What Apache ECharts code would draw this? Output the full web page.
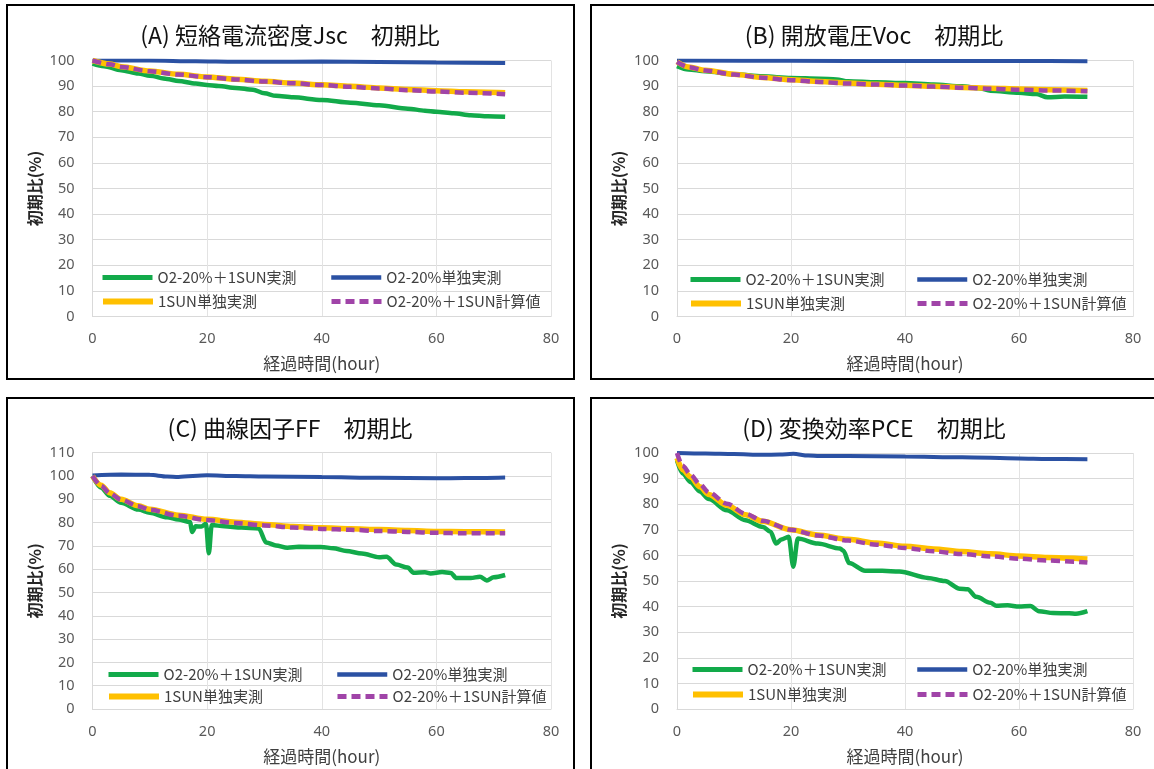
<!DOCTYPE html>
<html>
<head>
<meta charset="utf-8">
<title>初期比</title>
<script src="https://cdn.jsdelivr.net/npm/echarts@6/dist/echarts.min.js"></script>
<style>
  html, body { margin: 0; padding: 0; background: #ffffff; }
  #chart { width: 1154px; height: 769px; }
</style>
</head>
<body>
<div id="chart"></div>
<script>
// ---- legend / series names ----
const seriesNames = ['O2-20%＋1SUN実測', 'O2-20%単独実測', '1SUN単独実測', 'O2-20%＋1SUN計算値'];
const panelTitles = ['(A) 短絡電流密度Jsc　初期比', '(B) 開放電圧Voc　初期比', '(C) 曲線因子FF　初期比', '(D) 変換効率PCE　初期比'];
const xAxisName = '経過時間(hour)';
const yAxisName = '初期比(%)';
const yMaxes = [100, 100, 110, 100];

// ---- (A) Jsc : [hour, %] ----
const jscMixMeasured = [[0,98.8],[2,97.8],[5,96.2],[8,94.9],[10,94],[13,92.8],[15,92],[18,91],[20,90.4],[22,90],[25,89.3],[28,88.6],[30,87.2],[32,86.2],[35,85.6],[40,84.6],[45,83.5],[50,82.5],[55,81.2],[58,80.4],[60,80],[63,79.4],[66,78.6],[69,78.2],[72,78.0]];
const jscO2Only = [[0,100],[10,100],[18,99.7],[25,99.5],[30,99.5],[40,99.6],[50,99.4],[60,99.2],[72,99]];
const jscSunOnly = [[0,100],[3,98.6],[5,97.6],[10,95.9],[15,94.6],[20,93.6],[25,92.7],[30,91.9],[35,91.2],[40,90.5],[45,89.9],[50,89.3],[55,88.7],[60,88.2],[65,87.8],[72,87.4]];
const jscCalc = [[0,100],[3,98.5],[5,97.5],[10,95.8],[15,94.5],[20,93.5],[25,92.6],[30,91.8],[35,91.1],[40,90.4],[45,89.7],[50,89.1],[55,88.4],[60,87.9],[65,87.4],[72,86.8]];

// ---- (B) Voc ----
const vocMixMeasured = [[0,97.8],[2,96.5],[5,95.8],[10,94.6],[15,93.8],[20,93.2],[25,92.9],[28,92.6],[30,91.9],[35,91.5],[40,91.2],[45,90.6],[50,89.9],[53,89.2],[55,88.2],[60,87.4],[63,86.9],[65,85.6],[68,85.9],[72,85.8]];
const vocO2Only = [[0,100],[20,99.9],[40,99.8],[60,99.8],[72,99.7]];
const vocSunOnly = [[0,99.5],[2,97.5],[5,96.2],[10,94.6],[15,93.4],[20,92.5],[25,91.8],[30,91.2],[35,90.7],[40,90.3],[45,89.9],[50,89.5],[55,89.2],[60,88.9],[65,88.6],[72,88.3]];
const vocCalc = [[0,99.5],[2,97.4],[5,96.1],[10,94.5],[15,93.3],[20,92.3],[25,91.6],[30,91],[35,90.6],[40,90.2],[45,89.8],[50,89.4],[55,89],[60,88.6],[65,88.3],[72,88]];

// ---- (C) FF ----
const ffMixMeasured = [[0,100],[1.5,95],[3,91.5],[5,88.5],[8,85.6],[10,84.2],[13,82.3],[15,81.3],[17,80.3],[17.4,76],[18,78.4],[19,78.3],[19.8,79.5],[20.3,66.8],[20.8,79],[23,78.4],[26,77.9],[29,77.5],[30.3,71.5],[32,70.2],[34,69.2],[36,69.6],[40,69.5],[42,69],[44.3,67.8],[47,66.7],[50,65.1],[51.3,65.3],[53,62],[55,60.7],[56,58.5],[58,58.7],[59,58.2],[61,58.8],[62.5,58.4],[63.5,56.2],[66,56.2],[67.6,56.8],[68.8,55.2],[70,56.5],[72,57.5]];
const ffO2Only = [[0,100.2],[5,100.6],[10,100.5],[13,99.8],[15,99.6],[20,100.3],[25,100],[30,99.8],[40,99.6],[50,99.2],[60,99],[65,99.1],[72,99.4]];
const ffSunOnly = [[0,100],[1.5,96],[3,92.8],[5,90],[8,87.2],[10,85.7],[15,83.2],[20,81.4],[25,80.2],[30,79.2],[35,78.3],[40,77.8],[45,77.4],[50,77],[55,76.6],[60,76.2],[65,76.1],[72,76]];
const ffCalc = [[0,100],[1.5,95.8],[3,92.6],[5,89.8],[8,87],[10,85.5],[15,82.9],[20,81.1],[25,79.8],[30,78.8],[35,77.9],[40,77.3],[45,76.9],[50,76.4],[55,76],[60,75.6],[65,75.4],[72,75.4]];

// ---- (D) PCE ----
const pceMixMeasured = [[0,97],[1,92],[2.4,88.6],[4,85],[5.6,82],[8.75,77.6],[12,73.7],[15.1,71.1],[16.4,69.2],[17.4,64.6],[18.3,66.2],[19.6,67.3],[20.4,55.6],[21.2,66.6],[24.7,64.6],[28.6,62.7],[29.2,61.8],[30.2,57],[33,54],[36,54],[39,53.7],[44,51.2],[47,50],[49.6,47],[51,46.8],[52.5,43.8],[55,41.5],[56,40.3],[58,40.5],[60,40],[62,40.2],[63.5,38.2],[66,37.5],[68.8,37.4],[70,37.2],[72,38.2]];
const pceO2Only = [[0,100],[5,99.8],[10,99.6],[15,99.3],[18,99.4],[20.4,99.7],[23,99],[25,98.8],[30,98.8],[40,98.6],[50,98.3],[60,97.9],[65,97.7],[72,97.6]];
const pceSunOnly = [[0,98],[1,93.5],[2.4,90.6],[4,86.8],[5.6,83.8],[8.75,79.6],[12,75.9],[15,73.3],[20,70],[24.7,68],[30,66.3],[35,64.8],[40,63.6],[45,62.5],[50,61.5],[55,60.6],[60,59.8],[65,59.2],[72,58.6]];
const pceCalc = [[0,100],[1,95],[2.4,91.5],[4,87.8],[5.6,84.6],[8.75,80.2],[12,76.3],[15,73.5],[20,70],[24.7,67.8],[30,65.8],[35,64.2],[40,62.9],[45,61.6],[50,60.5],[55,59.6],[60,58.7],[65,58],[72,57.2]];

const panelData = [
  [jscMixMeasured, jscO2Only, jscSunOnly, jscCalc],
  [vocMixMeasured, vocO2Only, vocSunOnly, vocCalc],
  [ffMixMeasured, ffO2Only, ffSunOnly, ffCalc],
  [pceMixMeasured, pceO2Only, pceSunOnly, pceCalc]
];

// ---- layout and styling ----
const gridBoxes = [
  { left: 92.5, top: 60.5, width: 458.5, height: 256 },
  { left: 677, top: 60.5, width: 456, height: 256 },
  { left: 92.5, top: 452.7, width: 458.5, height: 256.3 },
  { left: 677, top: 453, width: 456, height: 256 }
];
const panelFrames = [
  { x: 7, y: 5, width: 567, height: 374 },
  { x: 591, y: 5, width: 580, height: 374 },
  { x: 7, y: 398, width: 567, height: 400 },
  { x: 591, y: 398, width: 580, height: 400 }
];
const titleCenters = [[290, 36], [874, 36], [290, 429], [874, 429]];
const legendRows = [[277, 301], [279, 303], [674, 696], [669, 694]];
const legendCols = [[100, 329], [688, 915], [106, 335], [690, 915]];

const lineStyles = [
  { color: '#12aa4a', width: 4.5, type: 'solid' },
  { color: '#2b51a3', width: 4, type: 'solid' },
  { color: '#ffc000', width: 5.5, type: 'solid' },
  { color: '#a044a8', width: 4.5, type: [9, 5] }
];

const cjk = '"Noto Sans CJK JP", "Noto Sans", sans-serif';

const grid = [], xAxis = [], yAxis = [], series = [], title = [], legend = [], graphic = [];

gridBoxes.forEach((box, p) => {
  grid.push(Object.assign({ containLabel: false }, box));

  xAxis.push({
    type: 'value', gridIndex: p, min: 0, max: 80, interval: 20,
    name: xAxisName, nameLocation: 'middle', nameGap: 39,
    nameTextStyle: { fontFamily: cjk, fontSize: 17, color: '#404040' },
    axisLine: { show: true, lineStyle: { color: '#d9d9d9', width: 1 } },
    axisTick: { show: false },
    axisLabel: { fontFamily: '"Noto Sans", sans-serif', fontSize: 14.5, color: '#595959', margin: 15 },
    splitLine: { show: true, lineStyle: { color: '#e3e3e3', width: 1 } }
  });

  yAxis.push({
    type: 'value', gridIndex: p, min: 0, max: yMaxes[p], interval: 10,
    name: yAxisName, nameLocation: 'middle', nameGap: 50, nameRotate: 90,
    nameTextStyle: { fontFamily: cjk, fontSize: 16, fontWeight: 'bold', color: '#262626' },
    axisLine: { show: true, lineStyle: { color: '#d9d9d9', width: 1 } },
    axisTick: { show: false },
    axisLabel: { fontFamily: '"Noto Sans", sans-serif', fontSize: 14.5, color: '#595959', margin: 18 },
    splitLine: { show: true, lineStyle: { color: '#d9d9d9', width: 1 } }
  });

  panelData[p].forEach((data, s) => {
    series.push({
      type: 'line', name: seriesNames[s], xAxisIndex: p, yAxisIndex: p,
      data: data, symbol: 'none', smooth: 0.3, smoothMonotone: 'x',
      lineStyle: lineStyles[s], itemStyle: { color: lineStyles[s].color },
      z: 2 + s, animation: false
    });
  });

  title.push({
    text: panelTitles[p], left: titleCenters[p][0], top: titleCenters[p][1] - 12,
    textAlign: 'center', padding: 0,
    textStyle: { fontFamily: cjk, fontSize: 23, fontWeight: 'normal', color: '#111111' }
  });

  seriesNames.forEach((name, s) => {
    const row = s < 2 ? 0 : 1;
    const col = s % 2;
    legend.push({
      data: [name], left: legendCols[p][col], top: legendRows[p][row] - 7,
      padding: 0, itemWidth: 50, itemHeight: 14, selectedMode: false,
      itemStyle: { opacity: 0 },
      lineStyle: { width: lineStyles[s].width + 0.5, type: lineStyles[s].type, color: lineStyles[s].color, cap: 'butt' },
      textStyle: { fontFamily: cjk, fontSize: 15, color: '#404040' }
    });
  });

  graphic.push({
    type: 'rect', silent: true, z: 100,
    shape: panelFrames[p],
    style: { fill: 'none', stroke: '#000000', lineWidth: 2 }
  });
});

const chart = echarts.init(document.getElementById('chart'), null, { renderer: 'canvas' });
chart.setOption({
  backgroundColor: '#ffffff',
  animation: false,
  title: title,
  legend: legend,
  grid: grid,
  xAxis: xAxis,
  yAxis: yAxis,
  series: series,
  graphic: graphic
});
</script>
</body>
</html>
